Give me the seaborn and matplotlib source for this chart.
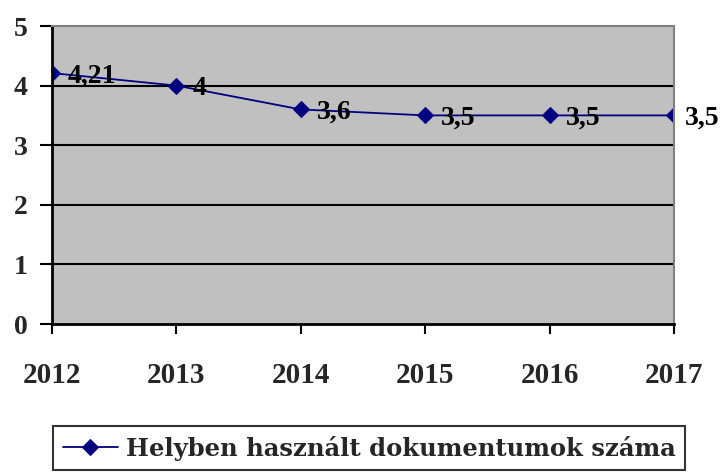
import matplotlib
matplotlib.use("Agg")
import matplotlib.pyplot as plt
import seaborn as sns
import pandas as pd

years = [2012, 2013, 2014, 2015, 2016, 2017]
values = [4.21, 4.0, 3.6, 3.5, 3.5, 3.5]
labels = ["4,21", "4", "3,6", "3,5", "3,5", "3,5"]
series_name = "Helyben használt dokumentumok száma"

sns.set_theme(style="white")
plt.rcParams['font.family'] = ['Liberation Serif', 'DejaVu Serif']

df = pd.DataFrame({"year": years, "value": values})

fig = plt.figure(figsize=(7.22, 4.73), dpi=100)
ax = fig.add_axes([52/722, 1-324/473, (674-52)/722, (324-26)/473])
ax.set_facecolor("#C0C0C0")

sns.lineplot(data=df, x="year", y="value", ax=ax, color="#000080", marker="D",
             markersize=8, markeredgecolor="#000080", linewidth=1.3, label=series_name,
             legend=False)

for i, (x, y, t) in enumerate(zip(years, values, labels)):
    dx = 8 if i == len(years) - 1 else 11.5
    ax.annotate(t, (x, y), xytext=(dx, -2), textcoords="offset points",
                ha="left", va="center", fontsize=20, fontweight="bold", color="black",
                annotation_clip=False)

ax.set_xlim(2012, 2017)
ax.set_ylim(0, 5)
ax.set_yticks([0, 1, 2, 3, 4, 5])
ax.set_xticks(years)
ax.set_xticklabels([str(y) for y in years])
for yv in [1, 2, 3, 4]:
    ax.axhline(yv, color="black", linewidth=1.5, zorder=1)

ax.tick_params(axis="y", direction="out", length=8.5, width=1.5, color="black",
               labelsize=20, pad=9, left=True)
ax.tick_params(axis="x", direction="out", length=7.5, width=1.5, color="black",
               labelsize=21, pad=20, bottom=True)
for lab in ax.get_yticklabels() + ax.get_xticklabels():
    lab.set_fontweight("bold")
ax.set_xlabel("")
ax.set_ylabel("")

for side in ["left", "bottom"]:
    ax.spines[side].set_color("black")
    ax.spines[side].set_linewidth(2)
for side in ["top", "right"]:
    ax.spines[side].set_color("#808080")
    ax.spines[side].set_linewidth(1.5)

leg = fig.legend(handles=[ax.get_lines()[0]], labels=[series_name],
                 loc="center", bbox_to_anchor=(369/722, 1-448/473),
                 frameon=True, fancybox=False, edgecolor="black",
                 prop={"family": "DejaVu Serif", "weight": "bold", "size": 17.5},
                 handlelength=2.3, handletextpad=0.3, borderpad=0.4)
leg.get_frame().set_linewidth(1.5)

fig.savefig("out.png", dpi=100)
